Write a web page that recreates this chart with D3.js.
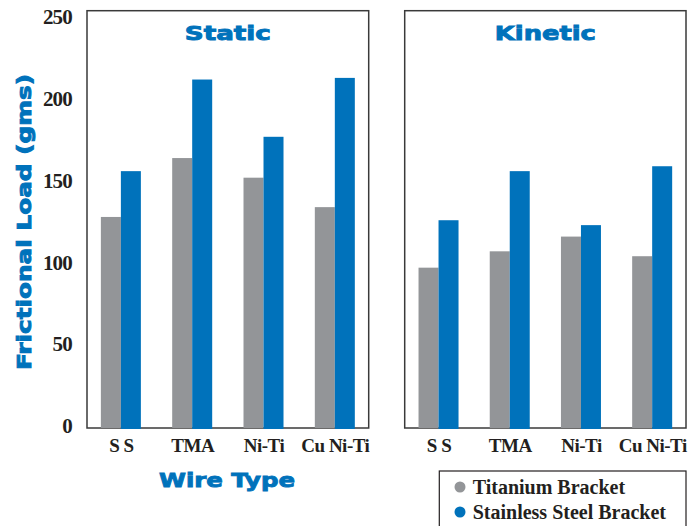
<!DOCTYPE html>
<html>
<head>
<meta charset="utf-8">
<script src="https://cdn.jsdelivr.net/npm/d3@7"></script>
<style>
  body { margin: 0; background: #fff; }
  .tick text { font-family: "Liberation Serif", serif; font-weight: bold; fill: #231f20; }
</style>
</head>
<body>
<svg width="696" height="526"></svg>
<script>
// **** data ****
var wires = ["S S", "TMA", "Ni-Ti", "Cu Ni-Ti"];
var series = ["Titanium Bracket", "Stainless Steel Bracket"];
var staticTitanium = [129, 165, 153, 135];
var staticSteel = [157, 213, 178, 214];
var kineticTitanium = [98, 108, 117, 105];
var kineticSteel = [127, 157, 124, 160];
var yTicks = [0, 50, 100, 150, 200, 250];

var colors = { "Titanium Bracket": "#939598", "Stainless Steel Bracket": "#0072bb" };
var blue = "#0072bb";

var svg = d3.select('svg');

var loadScale = d3.scaleLinear().domain([0, 250]).range([428, 19]);
var frameTop = 10.7, frameBottom = 428;

var panels = [
    { title: "Static", left: 87, right: 368.7, ti: staticTitanium, ss: staticSteel, titleLen: 86 },
    { title: "Kinetic", left: 404.7, right: 686, ti: kineticTitanium, ss: kineticSteel, titleLen: 101 }
];

function heavyText(sel) {
    // bold sans with a thin stroke to get the heavy display look
    return sel.style('font-family', '"DejaVu Sans", sans-serif')
        .style('font-weight', 'bold')
        .style('font-size', '20px')
        .style('fill', blue)
        .style('stroke', blue)
        .style('stroke-width', '0.9px');
}

panels.forEach(function(p) {
    var wireScale = d3.scalePoint().domain(wires).range([p.left, p.right]).padding(0.475);
    var g = svg.append('g');

    // frame
    g.append('rect')
        .attr('x', p.left).attr('y', frameTop)
        .attr('width', p.right - p.left).attr('height', frameBottom - frameTop)
        .attr('fill', 'none').attr('stroke', '#3a3a3a').attr('stroke-width', 1.5);

    // bars
    wires.forEach(function(w, i) {
        var cx = wireScale(w);
        g.append('rect')
            .attr('x', cx - 20).attr('width', 20)
            .attr('y', loadScale(p.ti[i])).attr('height', loadScale(0) - loadScale(p.ti[i]))
            .attr('fill', colors[series[0]]);
        g.append('rect')
            .attr('x', cx).attr('width', 20)
            .attr('y', loadScale(p.ss[i])).attr('height', loadScale(0) - loadScale(p.ss[i]) + 1)
            .attr('fill', colors[series[1]]);
    });

    // category axis
    var xAxis = g.append('g')
        .attr('transform', 'translate(0,' + frameBottom + ')')
        .call(d3.axisBottom(wireScale).tickSize(0).tickPadding(11));
    xAxis.select('.domain').remove();
    xAxis.selectAll('text').style('font-size', '19px').attr('letter-spacing', '-0.5px');

    g.append('text')
        .text(p.title)
        .attr('x', (p.left + p.right) / 2).attr('y', 40)
        .attr('text-anchor', 'middle')
        .attr('textLength', p.titleLen).attr('lengthAdjust', 'spacingAndGlyphs')
        .call(heavyText);
});

// y axis
var yAxis = svg.append('g').attr('transform', 'translate(87,-2)')
    .call(d3.axisLeft(loadScale).tickValues(yTicks).tickSize(0).tickPadding(15));
yAxis.select('.domain').remove();
yAxis.selectAll('text').style('font-size', '21px').attr('letter-spacing', '-0.8px');

svg.append('text')
    .text('Frictional Load (gms)')
    .attr('text-anchor', 'middle')
    .attr('textLength', 296).attr('lengthAdjust', 'spacingAndGlyphs')
    .attr('transform', 'translate(31,222) rotate(-90)')
    .call(heavyText);

svg.append('text')
    .text('Wire Type')
    .attr('x', 227).attr('y', 487)
    .attr('text-anchor', 'middle')
    .attr('textLength', 136).attr('lengthAdjust', 'spacingAndGlyphs')
    .call(heavyText);

// legend
var legend = svg.append('g');
legend.append('rect')
    .attr('x', 439.3).attr('y', 471).attr('width', 246.7).attr('height', 70)
    .attr('fill', 'none').attr('stroke', '#231f20').attr('stroke-width', 1.2);

var legendScale = d3.scalePoint().domain(series).range([487, 512]);
series.forEach(function(s) {
    legend.append('circle')
        .attr('cx', 460).attr('cy', legendScale(s)).attr('r', 5.5)
        .attr('fill', colors[s]);
    legend.append('text')
        .text(s)
        .attr('x', 472.7).attr('y', legendScale(s) + 6.5)
        .style('font-family', '"Liberation Serif", serif')
        .style('font-weight', 'bold')
        .style('font-size', '20px')
        .style('fill', '#231f20');
});
</script>
</body>
</html>
